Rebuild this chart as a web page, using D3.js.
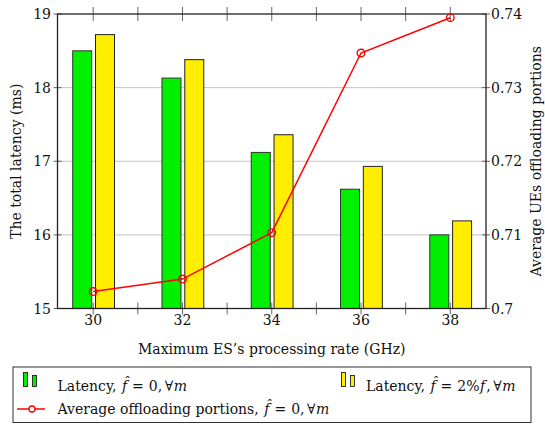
<!DOCTYPE html>
<html><head><meta charset="utf-8">
<script src="https://cdn.jsdelivr.net/npm/d3@7"></script>
<style>
body{margin:0;background:#fff;}
</style></head>
<body><svg id="c" width="545" height="424" font-family="'DejaVu Serif', 'Liberation Serif', serif"></svg>
<script>
const rates = [30, 32, 34, 36, 38];
const latencyNoF = [18.50, 18.13, 17.12, 16.62, 16.00];
const latency2F = [18.72, 18.38, 17.36, 16.93, 16.19];
const offload = [0.7023, 0.7040, 0.7103, 0.7347, 0.7395];
const leftTicks = [15, 16, 17, 18, 19];
const rightTicks = [0.70, 0.71, 0.72, 0.73, 0.74];
const rightTickLabels = ["0.7", "0.71", "0.72", "0.73", "0.74"];
const xMinorTicks = [30, 31, 32, 33, 34, 35, 36, 37, 38];

const svg = d3.select("#c");
const L = 57.5, R = 486, T = 14, B = 308.5;
const x = d3.scaleLinear().domain([29.2, 38.8]).range([L, R]);
const yL = d3.scaleLinear().domain([15, 19]).range([B, T]);
const yR = d3.scaleLinear().domain([0.70, 0.74]).range([B, T]);

// grid
svg.append("g").selectAll("line").data(leftTicks.slice(1, 4)).join("line")
  .attr("x1", L).attr("x2", R).attr("y1", d => yL(d)).attr("y2", d => yL(d))
  .attr("stroke", "#c4c4c4").attr("stroke-width", 1);

// ticks (centered on the axis lines)
const tk = svg.append("g").attr("stroke", "#555").attr("stroke-width", 0.9);
xMinorTicks.forEach(v => {
  tk.append("line").attr("x1", x(v)).attr("x2", x(v)).attr("y1", B - 6).attr("y2", B + 6);
  tk.append("line").attr("x1", x(v)).attr("x2", x(v)).attr("y1", T - 7).attr("y2", T + 7);
});
leftTicks.forEach(v => {
  tk.append("line").attr("x1", L - 4).attr("x2", L + 4).attr("y1", yL(v)).attr("y2", yL(v));
});
rightTicks.forEach(v => {
  tk.append("line").attr("x1", R - 4).attr("x2", R + 4).attr("y1", yR(v)).attr("y2", yR(v));
});

// bars
const bw = 19;
const bars = svg.append("g");
bars.selectAll("rect.g").data(rates).join("rect").attr("class", "g")
  .attr("x", (d) => x(d) - 11 - bw / 2).attr("width", bw)
  .attr("y", (d, i) => yL(latencyNoF[i])).attr("height", (d, i) => yL(15) - yL(latencyNoF[i]))
  .attr("fill", "#00f000").attr("stroke", "#333").attr("stroke-width", 1);
bars.selectAll("rect.y").data(rates).join("rect").attr("class", "y")
  .attr("x", (d) => x(d) + 11.8 - bw / 2).attr("width", bw)
  .attr("y", (d, i) => yL(latency2F[i])).attr("height", (d, i) => yL(15) - yL(latency2F[i]))
  .attr("fill", "#ffee00").attr("stroke", "#222").attr("stroke-width", 1);

// frame
svg.append("rect").attr("x", L).attr("y", T).attr("width", R - L).attr("height", B - T)
  .attr("fill", "none").attr("stroke", "#222").attr("stroke-width", 1.3);

// line
const line = d3.line().x((d, i) => x(rates[i])).y(d => yR(d));
svg.append("path").datum(offload).attr("d", line).attr("fill", "none")
  .attr("stroke", "#ff0000").attr("stroke-width", 1.5);
svg.append("g").selectAll("circle").data(offload).join("circle")
  .attr("cx", (d, i) => x(rates[i])).attr("cy", d => yR(d)).attr("r", 3.8)
  .attr("fill", "none").attr("stroke", "#ff0000").attr("stroke-width", 1.4);

// tick labels
const fs = 14;
svg.append("g").selectAll("text").data(rates).join("text")
  .attr("x", d => x(d)).attr("y", 325).attr("text-anchor", "middle")
  .attr("font-size", fs).attr("fill", "#111").text(d => d);
svg.append("g").selectAll("text").data(leftTicks).join("text")
  .attr("x", 51).attr("y", d => yL(d) + 5).attr("text-anchor", "end")
  .attr("font-size", fs).attr("fill", "#111").text(d => d);
svg.append("g").selectAll("text").data(rightTicks).join("text")
  .attr("x", 491).attr("y", d => yR(d) + 5).attr("text-anchor", "start")
  .attr("font-size", fs).attr("fill", "#111").text((d, i) => rightTickLabels[i]);

// axis titles
const fl = 14;
svg.append("text").attr("x", (L + R) / 2).attr("y", 354).attr("text-anchor", "middle")
  .attr("font-size", fl).attr("fill", "#111").text("Maximum ES\u2019s processing rate (GHz)");
svg.append("text").attr("transform", `translate(21,${(T + B) / 2}) rotate(-90)`)
  .attr("text-anchor", "middle").attr("font-size", fl).attr("fill", "#111").text("The total latency (ms)");
svg.append("text").attr("transform", `translate(541,${(T + B) / 2}) rotate(-90)`)
  .attr("text-anchor", "middle").attr("font-size", fl).attr("fill", "#111").text("Average UEs offloading portions");

// legend
const lg = svg.append("g");
lg.append("rect").attr("x", 13).attr("y", 367).attr("width", 518).attr("height", 55.5)
  .attr("fill", "#fff").attr("stroke", "#333").attr("stroke-width", 1);
function barIcon(x0, col) {
  lg.append("rect").attr("x", x0).attr("y", 372.5).attr("width", 4).attr("height", 14)
    .attr("fill", col).attr("stroke", "#222").attr("stroke-width", 0.9);
  lg.append("rect").attr("x", x0 + 9).attr("y", 375.5).attr("width", 4).attr("height", 11)
    .attr("fill", col).attr("stroke", "#222").attr("stroke-width", 0.9);
}
barIcon(23.5, "#00f000");
barIcon(341.5, "#ffee00");
lg.append("line").attr("x1", 17).attr("x2", 45).attr("y1", 409).attr("y2", 409)
  .attr("stroke", "#ff0000").attr("stroke-width", 1.5);
lg.append("circle").attr("cx", 32).attr("cy", 409).attr("r", 3).attr("fill", "#fff")
  .attr("stroke", "#ff0000").attr("stroke-width", 1.3);

// pieces: [text, italic, gap before]
function legText(x0, y0, parts) {
  let cx = x0;
  parts.forEach(p => {
    cx += p[2] || 0;
    const t = lg.append("text").attr("x", cx).attr("y", y0).attr("font-size", fl)
      .attr("fill", "#111").text(p[0]);
    if (p[1]) t.attr("font-style", "italic");
    cx += t.node().getComputedTextLength();
  });
}
legText(57.5, 390.5, [["Latency,"], ["f\u0302", 1, 5.5], ["=", 0, 5], ["0,", 0, 5], ["\u2200", 0, 2.5], ["m", 1, 0.5]]);
legText(366, 390.5, [["Latency,"], ["f\u0302", 1, 5.5], ["=", 0, 5], ["2%", 0, 5], ["f", 1, 0.5], [",", 0, 1], ["\u2200", 0, 2.5], ["m", 1, 0.5]]);
legText(57.5, 413.5, [["Average offloading portions,"], ["f\u0302", 1, 5.5], ["=", 0, 5], ["0,", 0, 5], ["\u2200", 0, 2.5], ["m", 1, 0.5]]);
</script></body></html>
